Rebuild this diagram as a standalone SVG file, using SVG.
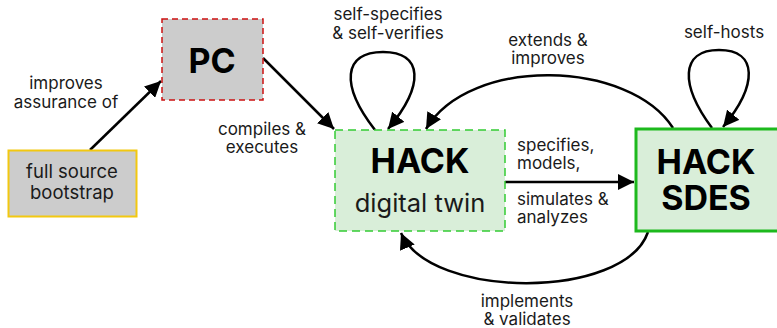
<svg xmlns="http://www.w3.org/2000/svg" width="777" height="328" viewBox="0 0 777 328">
<style>
text{font-family:Inter,"Noto Sans","Liberation Sans",sans-serif;fill:#1a1a1a}
.lbl{font-size:17px}
.big{font-size:34px;font-weight:bold;fill:#000}
.con{fill:none;stroke:#000;stroke-width:2.5}
</style>
<defs>
<marker id="ah" markerUnits="userSpaceOnUse" markerWidth="18" markerHeight="16" refX="16" refY="8" orient="auto">
<path d="M0,0 L16,8 L0,16 z" fill="#000"/>
</marker>
</defs>
<rect width="777" height="328" fill="#fff"/>
<g id="connectors">
<path class="con" d="M90,150 L161,81" marker-end="url(#ah)"/>
<path class="con" d="M263,58 L334,129" marker-end="url(#ah)"/>
<path class="con" d="M375,130 C340,85 343,52 383,52 C423,52 425,85 388,129" marker-end="url(#ah)"/>
<path class="con" d="M673,128 C630,60 470,55 426,129" marker-end="url(#ah)"/>
<path class="con" d="M712,128 C680,85 680,50 719,50 C758,50 758,85 723,127" marker-end="url(#ah)"/>
<path class="con" d="M505,182 L634,182" marker-end="url(#ah)"/>
<path class="con" d="M648,232 C625,300 430,300 401,233" marker-end="url(#ah)"/>
</g>
<g id="bootstrap">
<rect x="8.5" y="150.5" width="128" height="66" fill="#cccccc" stroke="#f2c811" stroke-width="2"/>
<text text-anchor="middle" font-size="18.5"><tspan x="72" y="178">full source</tspan><tspan x="72" y="199">bootstrap</tspan></text>
</g>
<g id="pc">
<rect x="162" y="19" width="101" height="81" fill="#cccccc" stroke="#cc1111" stroke-width="1.5" stroke-dasharray="6,4"/>
<text class="big" x="212" y="73" text-anchor="middle">PC</text>
</g>
<g id="twin">
<rect x="335" y="130" width="170" height="101" fill="#d9eed9" stroke="#33cc33" stroke-width="1.5" stroke-dasharray="8,5"/>
<text text-anchor="middle"><tspan class="big" x="420" y="173">HACK</tspan><tspan x="420" y="212" font-size="25.5">digital twin</tspan></text>
</g>
<g id="sdes">
<rect x="636" y="129" width="145" height="102" fill="#d9eed9" stroke="#1db91d" stroke-width="3"/>
<text class="big" text-anchor="middle"><tspan x="706" y="174">HACK</tspan><tspan x="706" y="210">SDES</tspan></text>
</g>
<g id="labels">
<text class="lbl" text-anchor="middle"><tspan x="66" y="89">improves</tspan><tspan x="66" y="108">assurance of</tspan></text>
<text class="lbl" text-anchor="middle"><tspan x="262" y="135">compiles &amp;</tspan><tspan x="262" y="153">executes</tspan></text>
<text class="lbl" text-anchor="middle"><tspan x="388" y="20">self-specifies</tspan><tspan x="388" y="39">&amp; self-verifies</tspan></text>
<text class="lbl" text-anchor="middle"><tspan x="548" y="46">extends &amp;</tspan><tspan x="548" y="64">improves</tspan></text>
<text class="lbl" x="724" y="38" text-anchor="middle">self-hosts</text>
<text class="lbl"><tspan x="517" y="151">specifies,</tspan><tspan x="517" y="169">models,</tspan></text>
<text class="lbl"><tspan x="517" y="205">simulates &amp;</tspan><tspan x="517" y="223">analyzes</tspan></text>
<text class="lbl" text-anchor="middle"><tspan x="527" y="307">implements</tspan><tspan x="527" y="325">&amp; validates</tspan></text>
</g>
</svg>
